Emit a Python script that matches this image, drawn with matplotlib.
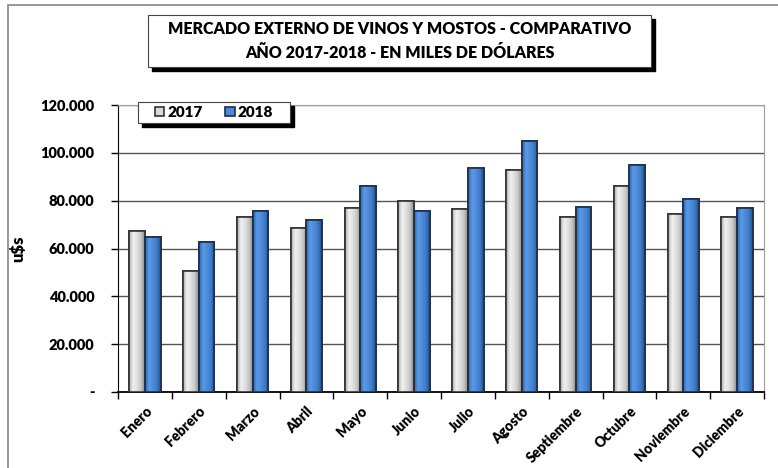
import numpy as np
import matplotlib
matplotlib.use("Agg")
import matplotlib.pyplot as plt
from matplotlib.colors import LinearSegmentedColormap
from matplotlib.patches import Rectangle

meses = ["Enero", "Febrero", "Marzo", "Abril", "Mayo", "Junio", "Julio",
         "Agosto", "Septiembre", "Octubre", "Noviembre", "Diciembre"]
v2017 = [67200, 50800, 73300, 68500, 76800, 80000, 76400, 92800, 73300, 86200, 74400, 73300]
v2018 = [64700, 62600, 75500, 72100, 86100, 75800, 93500, 104900, 77500, 95000, 80700, 77100]
yticks = [0, 20000, 40000, 60000, 80000, 100000, 120000]
ylabels = ["-", "20.000", "40.000", "60.000", "80.000", "100.000", "120.000"]

plt.rcParams['font.family'] = ['Lato', 'DejaVu Sans']
peso = 'heavy'

fig = plt.figure(figsize=(7.78, 4.68), dpi=100)
ax = fig.add_axes([0.1517, 0.1624, 0.8303, 0.6132])

x = np.arange(len(meses))
w = 0.29
b1 = ax.bar(x - w/2, v2017, w, color='#d9d9d9', edgecolor='#333333', linewidth=1.2, zorder=3)
b2 = ax.bar(x + w/2, v2018, w, color='#4a8ad8', edgecolor='#1f2f45', linewidth=1.2, zorder=3)

# degradado horizontal dentro de las barras
gris = LinearSegmentedColormap.from_list('g', ['#a8a8a8', '#f2f2f2', '#e0e0e0', '#c8c8c8', '#8a8a8a'])
azul = LinearSegmentedColormap.from_list('b', ['#2f64a8', '#5a9ae6', '#4f8ddc', '#3f7cc8', '#234f8a'])
grad = np.linspace(0, 1, 64).reshape(1, -1)
for bars, cm in ((b1, gris), (b2, azul)):
    for p in bars:
        x0, y0 = p.get_x(), p.get_y()
        im = ax.imshow(grad, cmap=cm, aspect='auto', extent=(x0, x0 + p.get_width(), y0, y0 + p.get_height()),
                       zorder=3.5, interpolation='bicubic')
        im.set_clip_path(p)
        ax.add_patch(Rectangle((x0, y0), p.get_width(), p.get_height(), fill=False,
                               edgecolor=p.get_edgecolor(), linewidth=1.2, zorder=4))

ax.set_xlim(-0.5, len(meses) - 0.5)
ax.set_ylim(0, 120000)
ax.set_yticks(yticks)
ax.set_yticklabels(ylabels, fontsize=10.5, fontweight=peso)
ax.set_xticks(x)
ax.set_xticklabels(meses, rotation=45, ha='right', rotation_mode='anchor',
                   fontsize=10, fontweight=peso)
ax.set_xticks(np.arange(-0.5, len(meses)), minor=True)
ax.tick_params(axis='x', which='major', length=0, pad=9)
ax.tick_params(axis='x', which='minor', length=5, width=1, color='black', direction='out')
ax.tick_params(axis='y', length=5, width=1, direction='out', pad=12)

ax.grid(axis='y', color='#555555', linewidth=1, zorder=0)
for s in ['top', 'right']:
    ax.spines[s].set_color('#a0a0a0')
ax.spines['left'].set_color('black')
ax.spines['bottom'].set_color('black')
ax.spines['bottom'].set_linewidth(1.3)

ax.set_ylabel("u$s", fontsize=12, fontweight=peso, labelpad=10)

# marco exterior
fig.patches.append(Rectangle((8/778, -0.01), 1.0, 1.0 - 5/468 + 0.01, transform=fig.transFigure,
                             fill=False, edgecolor='#888888', linewidth=1.2))

# caja del titulo con sombra
tx0, ty0, tw, th = 148/778, 1 - 67/468, 503/778, 52/468
fig.patches.append(Rectangle((tx0 + 4/778, ty0 - 4/468), tw, th, transform=fig.transFigure,
                             facecolor='black', edgecolor='black', zorder=1))
fig.patches.append(Rectangle((tx0, ty0), tw, th, transform=fig.transFigure,
                             facecolor='white', edgecolor='#444444', linewidth=0.8, zorder=2))
fig.text(tx0 + tw/2, ty0 + th/2, "MERCADO EXTERNO DE VINOS Y MOSTOS - COMPARATIVO\nAÑO 2017-2018 - EN MILES DE DÓLARES",
         ha='center', va='center', fontsize=11.5, fontweight=peso, linespacing=1.6, zorder=3)

# caja de la leyenda con sombra
lx0, ly0, lw, lh = 138/778, 1 - 123/468, 152/778, 21/468
fig.patches.append(Rectangle((lx0 + 4/778, ly0 - 4/468), lw, lh, transform=fig.transFigure,
                             facecolor='black', edgecolor='black', zorder=5))
fig.patches.append(Rectangle((lx0, ly0), lw, lh, transform=fig.transFigure,
                             facecolor='white', edgecolor='#444444', linewidth=0.8, zorder=6))
leg = fig.legend([b1, b2], ["2017", "2018"], ncol=2, frameon=False, loc='center',
                 bbox_to_anchor=(lx0 + lw/2, ly0 + lh/2), bbox_transform=fig.transFigure,
                 prop={'weight': peso, 'size': 11}, handlelength=0.6, handleheight=0.6,
                 handletextpad=0.2, columnspacing=1.5, borderpad=0)
leg.set_zorder(10)

fig.savefig("out.png", dpi=100)
